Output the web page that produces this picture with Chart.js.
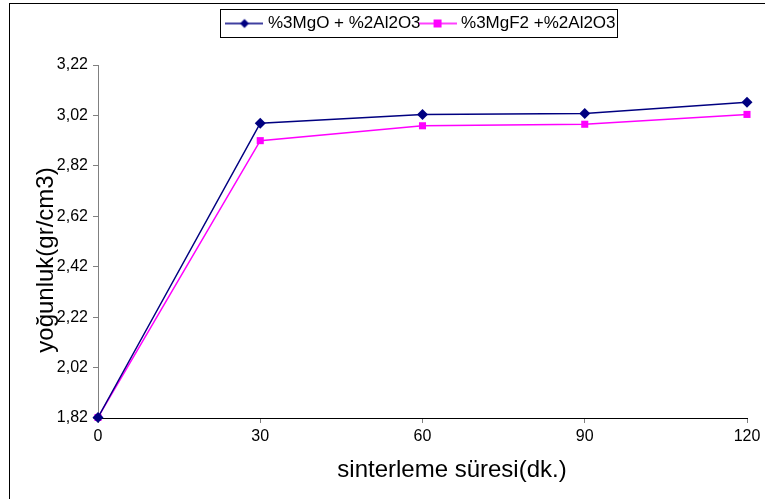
<!DOCTYPE html>
<html>
<head>
<meta charset="utf-8">
<script src="https://cdn.jsdelivr.net/npm/chart.js@4/dist/chart.umd.min.js"></script>
<style>
  html, body { margin: 0; padding: 0; background: #fff; }
  #wrap { width: 765px; height: 499px; position: relative; }
</style>
</head>
<body>
<div id="wrap"><canvas id="densityChart"></canvas></div>
<script>
// Chart data
const sinterTimes = [0, 30, 60, 90, 120];
const mgoSeries = [1.822, 2.989, 3.024, 3.028, 3.072];
const mgf2Series = [1.822, 2.920, 2.979, 2.985, 3.024];
const seriesNames = ['%3MgO + %2Al2O3', '%3MgF2 +%2Al2O3'];
const yTickValues = [1.82, 2.02, 2.22, 2.42, 2.62, 2.82, 3.02, 3.22];
const xTickValues = [0, 30, 60, 90, 120];
const xAxisTitle = 'sinterleme süresi(dk.)';
const yAxisTitle = 'yoğunluk(gr/cm3)';

const NAVY = '#000080';
const MAGENTA = '#FF00FF';
const FONT = "'Liberation Sans', Arial, sans-serif";

// Legend symbol: short line with the marker in the middle
function legendSymbol(color, style) {
    const c = document.createElement('canvas');
    c.width = 38;
    c.height = 12;
    const g = c.getContext('2d');
    g.strokeStyle = color;
    g.lineWidth = 1.5;
    g.beginPath();
    g.moveTo(0, 6);
    g.lineTo(38, 6);
    g.stroke();
    g.fillStyle = color;
    if (style === 'diamond') {
        g.beginPath();
        g.moveTo(19, 1.5);
        g.lineTo(23.5, 6);
        g.lineTo(19, 10.5);
        g.lineTo(14.5, 6);
        g.closePath();
        g.fill();
    } else {
        g.fillRect(15, 2, 8, 8);
    }
    return c;
}

// Frame, legend box and the axis titles (Excel puts them a bit off-centre)
const framePlugin = {
    id: 'framePlugin',
    beforeInit(chart) {
        const origFit = chart.legend.fit;
        chart.legend.fit = function() {
            origFit.bind(chart.legend)();
            this.height = 52;
        };
    },
    afterDraw(chart) {
        const ctx = chart.ctx;
        ctx.save();
        ctx.strokeStyle = '#000';
        ctx.lineWidth = 1;
        ctx.strokeRect(9.5, 3.5, 800, 600);
        const boxes = chart.legend.legendHitBoxes;
        if (boxes && boxes.length) {
            const left = Math.min(...boxes.map(b => b.left)) - 9;
            const right = Math.max(...boxes.map(b => b.left + b.width)) + 2;
            const top = Math.min(...boxes.map(b => b.top)) - 6;
            const bottom = Math.max(...boxes.map(b => b.top + b.height)) + 5;
            ctx.strokeRect(Math.round(left) + 0.5, Math.round(top) + 0.5, Math.round(right - left), Math.round(bottom - top));
        }
        ctx.fillStyle = '#000';
        ctx.font = '24px ' + FONT;
        ctx.textAlign = 'center';
        ctx.textBaseline = 'middle';
        ctx.fillText(xAxisTitle, 452, 470);
        ctx.translate(46, 260);
        ctx.rotate(-Math.PI / 2);
        ctx.fillText(yAxisTitle, 0, 0);
        ctx.restore();
    }
};

const ctx = document.getElementById('densityChart').getContext('2d');
const chart = new Chart(ctx, {
    type: 'line',
    data: {
        datasets: [{
            label: seriesNames[0],
            data: sinterTimes.map((t, i) => ({ x: t, y: mgoSeries[i] })),
            borderColor: NAVY,
            backgroundColor: NAVY,
            borderWidth: 1.5,
            pointStyle: 'rectRot',
            pointRadius: 5.5,
            pointBorderWidth: 0,
            tension: 0,
            clip: false
        }, {
            label: seriesNames[1],
            data: sinterTimes.map((t, i) => ({ x: t, y: mgf2Series[i] })),
            borderColor: MAGENTA,
            backgroundColor: MAGENTA,
            borderWidth: 1.5,
            pointStyle: 'rect',
            pointRadius: 5,
            pointBorderWidth: 0,
            tension: 0,
            clip: false
        }]
    },
    options: {
        responsive: true,
        maintainAspectRatio: false,
        animation: false,
        layout: {
            padding: { left: 12, right: 18, top: 13, bottom: 0 }
        },
        plugins: {
            tooltip: { enabled: false },
            legend: {
                position: 'top',
                fullSize: false,
                labels: {
                    color: '#000',
                    font: { family: FONT, size: 17 },
                    usePointStyle: true,
                    pointStyleWidth: 30,
                    padding: 2,
                    generateLabels(chart) {
                        return chart.data.datasets.map((ds, i) => ({
                            text: ds.label,
                            fillStyle: ds.borderColor,
                            strokeStyle: ds.borderColor,
                            lineWidth: 0,
                            pointStyle: legendSymbol(ds.borderColor, i === 0 ? 'diamond' : 'square'),
                            datasetIndex: i,
                            hidden: false
                        }));
                    }
                }
            }
        },
        scales: {
            x: {
                type: 'linear',
                min: 0,
                max: 120,
                afterBuildTicks(scale) {
                    scale.ticks = xTickValues.map(v => ({ value: v }));
                },
                afterFit(scale) {
                    scale.height = 499 - 418;
                },
                border: { color: '#000', width: 1 },
                grid: {
                    display: true,
                    drawOnChartArea: false,
                    drawTicks: true,
                    tickLength: 5,
                    color: '#808080'
                },
                ticks: {
                    color: '#000',
                    padding: 4,
                    maxRotation: 0,
                    font: { family: FONT, size: 16 }
                },
                title: { display: false }
            },
            y: {
                min: 1.82,
                max: 3.22,
                afterBuildTicks(scale) {
                    scale.ticks = yTickValues.map(v => ({ value: v }));
                },
                afterFit(scale) {
                    scale.width = 98 - 12;
                },
                border: { color: '#808080', width: 1 },
                grid: {
                    display: true,
                    drawOnChartArea: false,
                    drawTicks: true,
                    tickLength: 5,
                    color: '#808080'
                },
                ticks: {
                    color: '#000',
                    padding: 5,
                    font: { family: FONT, size: 16 },
                    callback: v => v.toFixed(2).replace('.', ',')
                },
                title: { display: false }
            }
        }
    },
    plugins: [framePlugin]
});
</script>
</body>
</html>
